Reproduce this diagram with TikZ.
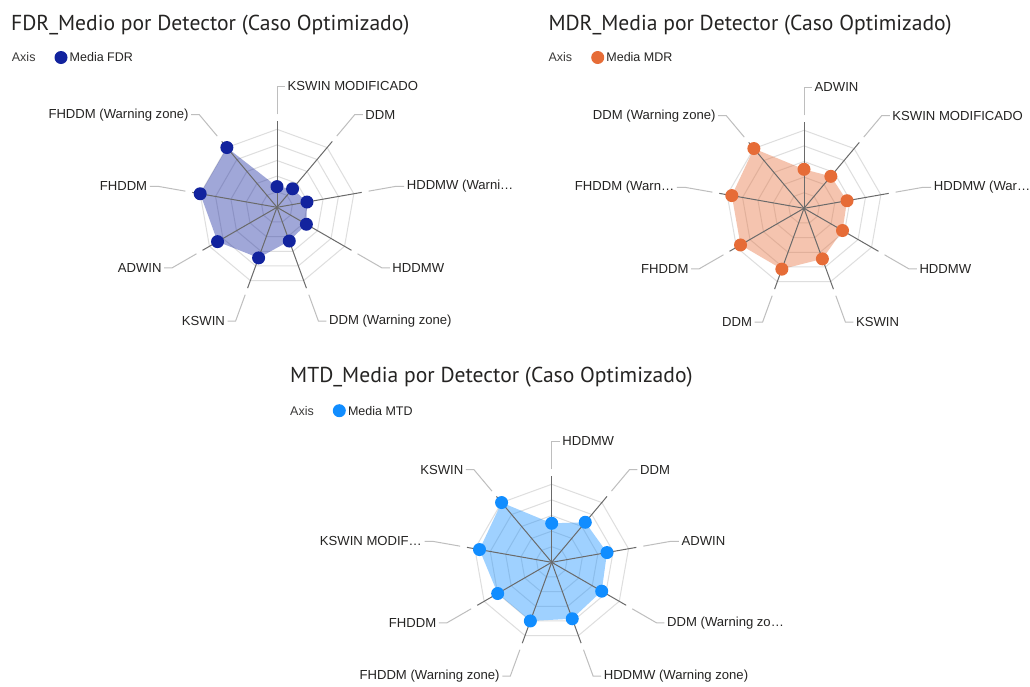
\documentclass[tikz,border=0pt]{standalone}
\usepackage{fontspec}
\setmainfont{Liberation Sans}
\newfontfamily\titlefont{PT Sans}
\usetikzlibrary{calc}
\definecolor{fdrc}{HTML}{12239E}
\definecolor{mdrc}{HTML}{E66C37}
\definecolor{mtdc}{HTML}{118DFF}
\definecolor{gridc}{HTML}{DEDEDE}
\definecolor{axisc}{HTML}{6A6A6A}
\definecolor{leadc}{HTML}{BEBEBE}
\definecolor{txtc}{HTML}{252423}
\definecolor{titlec}{HTML}{252423}
\definecolor{legc}{HTML}{3B3A39}
\tikzset{
  gridline/.style={draw=gridc, line width=1},
  axisline/.style={draw=axisc, line width=1},
  leader/.style={draw=leadc, line width=1},
  lbl/.style={inner sep=0pt, text=txtc, font=\fontsize{13.1}{15}\selectfont},
  charttitle/.style={inner sep=0pt, text=titlec, font=\titlefont\fontsize{21.6}{24}\selectfont},
  legaxis/.style={inner sep=0pt, text=legc, font=\fontsize{12.5}{14}\selectfont},
  legtext/.style={inner sep=0pt, text=titlec, font=\fontsize{12.5}{14}\selectfont},
  dot/.style={circle, inner sep=0pt, minimum size=13, fill=#1},
}
\newcommand\radarchart[4]{%
\begin{scope}[shift={#2},yscale=-1]
  \coordinate (#1-c) at (0,0);
  \foreach \k in {1,...,5}{
    \draw[gridline] (90:\k*15.6) \foreach \j in {1,...,8}{ -- ({90-40*\j}:\k*15.6)} -- cycle;
  }
  \foreach \l/\v [count=\i] in {#4}{
    \coordinate (#1-p\i) at ({90-40*(\i-1)}:{\v*78});
  }
  \fill[#3, fill opacity=0.4] (#1-p1) -- (#1-p2) -- (#1-p3) -- (#1-p4) -- (#1-p5)
       -- (#1-p6) -- (#1-p7) -- (#1-p8) -- (#1-p9) -- cycle;
  \foreach \l/\v [count=\i] in {#4}{
    \pgfmathsetmacro\a{90-40*(\i-1)}
    \pgfmathtruncatemacro\d{ifthenelse(cos(\a)>-0.01,1,-1)}
    \coordinate (#1-e\i) at (\a:86);
    \coordinate (#1-s\i) at (\a:93);
    \coordinate (#1-t\i) at (\a:121);
    \coordinate (#1-h\i) at ($(#1-t\i)+(8*\d,0)$);
    \draw[axisline] (#1-c) -- (#1-e\i);
    \ifnum\d>0
      \node[lbl, anchor=west] (#1-l\i) at ($(#1-t\i)+(10.5,0)$) {\l};
    \else
      \node[lbl, anchor=east] (#1-l\i) at ($(#1-t\i)+(-10.5,0)$) {\l};
    \fi
    \draw[leader] (#1-s\i) -- (#1-t\i) -- (#1-h\i);
  }
  \foreach \l/\v [count=\i] in {#4}{
    \node[dot=#3] (#1-d\i) at (#1-p\i) {};
  }
\end{scope}
}
\begin{document}
\begin{tikzpicture}[x=1pt,y=-1pt]
\fill[white] (0,0) rectangle (1030,686);
\useasboundingbox (0,0) rectangle (1030,686);

% ---------- FDR ----------
\node[charttitle, anchor=base west] (t1) at (11,30) {FDR\_Medio por Detector (Caso Optimizado)};
\node[legaxis, anchor=west] (la1) at (11.7,57.5) {Axis};
\node[dot=fdrc] (ld1) at (61,57.5) {};
\node[legtext, anchor=west] (lt1) at (69.5,57.5) {Media FDR};
\radarchart{fdr}{(277,207.3)}{fdrc}{KSWIN MODIFICADO/0.265, DDM/0.31, HDDMW (Warni…/0.39, HDDMW/0.435, DDM (Warning zone)/0.46, KSWIN/0.69, ADWIN/0.88, FHDDM/1.0, FHDDM (Warning zone)/1.0}

% ---------- MDR ----------
\node[charttitle, anchor=base west] (t2) at (548.3,30) {MDR\_Media por Detector (Caso Optimizado)};
\node[legaxis, anchor=west] (la2) at (548.3,57.5) {Axis};
\node[dot=mdrc] (ld2) at (597.7,57.5) {};
\node[legtext, anchor=west] (lt2) at (606.2,57.5) {Media MDR};
\radarchart{mdr}{(804,208.3)}{mdrc}{ADWIN/0.50, KSWIN MODIFICADO/0.535, HDDMW (War…/0.56, HDDMW/0.57, KSWIN/0.69, DDM/0.83, FHDDM/0.94, FHDDM (Warn…/0.94, DDM (Warning zone)/1.0}

% ---------- MTD ----------
\node[charttitle, anchor=base west] (t3) at (290,382.7) {MTD\_Media por Detector (Caso Optimizado)};
\node[legaxis, anchor=west] (la3) at (290,410.7) {Axis};
\node[dot=mtdc] (ld3) at (339.3,410.7) {};
\node[legtext, anchor=west] (lt3) at (347.8,410.7) {Media MTD};
\radarchart{mtd}{(551.7,562.3)}{mtdc}{HDDMW/0.50, DDM/0.67, ADWIN/0.72, DDM (Warning zo…/0.74, HDDMW (Warning zone)/0.77, FHDDM (Warning zone)/0.80, FHDDM/0.80, KSWIN MODIF…/0.94, KSWIN/1.0}
\end{tikzpicture}
\end{document}
